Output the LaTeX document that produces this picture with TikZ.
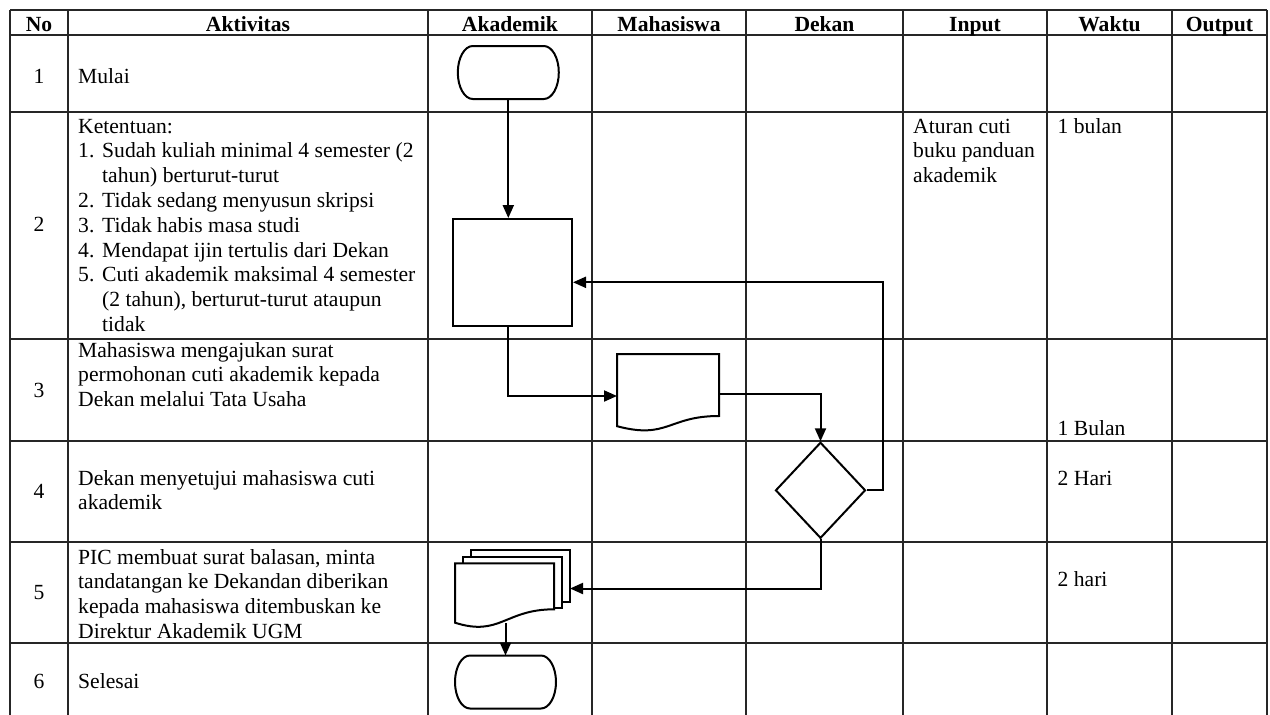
\documentclass[tikz,border=0pt]{standalone}
\usepackage{fontspec}
\setmainfont{Liberation Serif}
\usetikzlibrary{shapes.geometric,arrows.meta,calc}
\newcommand{\itemlab}[1]{\makebox[24pt][l]{#1}}
\newcommand{\termshape}[1]{%
  \draw[shp] ([xshift=15pt]#1.north west) -- ([xshift=-15pt]#1.north east)
    arc[start angle=-90,end angle=90,x radius=15,y radius=26.5]
    -- ([xshift=15pt]#1.south west)
    arc[start angle=90,end angle=270,x radius=15,y radius=26.5] -- cycle;}
\begin{document}
\begin{tikzpicture}[x=1pt,y=-1pt,
  grid/.style={line width=1.6pt,black!85},
  shp/.style={draw,line width=2pt},
  arr/.style={line width=2pt,-{Triangle[length=13pt,width=11pt]}},
  holder/.style={inner sep=0pt,outer sep=0pt},
  txt/.style={inner sep=0pt,anchor=base west,font=\fontsize{21.6}{24.8}\selectfont},
  num/.style={inner sep=0pt,anchor=base,font=\fontsize{21.6}{24.8}\selectfont},
  hdr/.style={inner sep=0pt,anchor=base,font=\fontsize{21.6}{24.8}\selectfont\bfseries}]
\useasboundingbox[fill=white] (0,0) rectangle (1270,715);

% grid
\foreach \x in {10,68,428,592,746,903,1047,1172,1267}
  \draw[grid] (\x,10) -- (\x,715);
\foreach \y in {10,35,112,339,441,542,643}
  \draw[grid] (10,\y) -- (1267,\y);

% header
\node[hdr] (hNo) at (39,31.5) {No};
\node[hdr] (hAkt) at (248,31.5) {Aktivitas};
\node[hdr] (hAka) at (510,31.5) {Akademik};
\node[hdr] (hMhs) at (669,31.5) {Mahasiswa};
\node[hdr] (hDek) at (824.5,31.5) {Dekan};
\node[hdr] (hIn) at (975,31.5) {Input};
\node[hdr] (hWak) at (1109.5,31.5) {Waktu};
\node[hdr] (hOut) at (1219.5,31.5) {Output};

% numbers
\node[num] (n1) at (39,83.3) {1};
\node[num] (n2) at (39,231) {2};
\node[num] (n3) at (39,397) {3};
\node[num] (n4) at (39,498) {4};
\node[num] (n5) at (39,599) {5};
\node[num] (n6) at (39,688) {6};

% activities
\node[txt] (a1) at (78,83.3) {Mulai};
\node[txt] (a2) at (78,133) {\begin{tabular}[t]{@{}l@{}}Ketentuan:\\
\itemlab{1.}Sudah kuliah minimal 4 semester (2\\
\itemlab{}tahun) berturut-turut\\
\itemlab{2.}Tidak sedang menyusun skripsi\\
\itemlab{3.}Tidak habis masa studi\\
\itemlab{4.}Mendapat ijin tertulis dari Dekan\\
\itemlab{5.}Cuti akademik maksimal 4 semester\\
\itemlab{}(2 tahun), berturut-turut ataupun\\
\itemlab{}tidak\end{tabular}};
\node[txt] (a3) at (78,357) {\begin{tabular}[t]{@{}l@{}}Mahasiswa mengajukan surat\\
permohonan cuti akademik kepada\\ Dekan melalui Tata Usaha\end{tabular}};
\node[txt] (a4) at (78,485) {\begin{tabular}[t]{@{}l@{}}Dekan menyetujui mahasiswa cuti\\ akademik\end{tabular}};
\node[txt] (a5) at (78,564) {\begin{tabular}[t]{@{}l@{}}PIC membuat surat balasan, minta\\
tandatangan ke Dekandan diberikan\\ kepada mahasiswa ditembuskan ke\\ Direktur Akademik UGM\end{tabular}};
\node[txt] (a6) at (78,688) {Selesai};

% input / waktu
\node[txt] (in2) at (913,133) {\begin{tabular}[t]{@{}l@{}}Aturan cuti\\ buku panduan\\ akademik\end{tabular}};
\node[txt] (w2) at (1057.5,133) {1 bulan};
\node[txt] (w3) at (1057.5,435) {1 Bulan};
\node[txt] (w4) at (1057.5,485.7) {2 Hari};
\node[txt] (w5) at (1057.5,586.7) {2 hari};

% shapes
\node[holder,minimum width=101pt,minimum height=53pt] (start) at (508.3,72.5) {};
\termshape{start}
\node[shp,rectangle,inner sep=0pt,minimum width=119pt,minimum height=106.5pt] (proc) at (512.5,272.3) {};
\node[holder,minimum width=102pt,minimum height=77pt] (doc) at (668,392.5) {};
\begin{scope}[shift={(doc.north west)}]
  \draw[shp] (0,0) -- (102,0) -- (102,62) .. controls (51,62) and (51,85.7) .. (0,72.2) -- cycle;
\end{scope}
\node[shp,diamond,inner sep=0pt,minimum width=90pt,minimum height=96pt] (dec) at (820.5,490.3) {};
\node[holder,minimum width=115pt,minimum height=77pt] (md) at (512.5,588.5) {};
\begin{scope}[shift={(md.north west)}]
  \draw[shp] (16,6.7) -- (16,0) -- (115,0) -- (115,52.3) -- (107.3,52.3);
  \draw[shp] (8,13.3) -- (8,6.7) -- (107.3,6.7) -- (107.3,58) -- (99,58);
  \draw[shp] (0,13.3) -- (99,13.3) -- (99,59.3) .. controls (50,59.3) and (45,87) .. (0,72.7) -- cycle;
\end{scope}
\node[holder,minimum width=101pt,minimum height=53pt] (end) at (505.5,682) {};
\termshape{end}

% connectors
\coordinate (fb) at (882.5,282.3);
\draw[arr] (start.south) -- (start.south |- proc.north);
\draw[arr] (start.south |- proc.south) |- ([yshift=-3.5pt]doc.west);
\draw[arr] ([yshift=-1.5pt]doc.east) -| (dec.north);
\draw[arr] (dec.east) -| (fb) -- (fb -| proc.east);
\draw[arr] (dec.south) |- (md.east);
\draw[arr] ([yshift=4pt]end.north |- md.south) -- (end.north);
\end{tikzpicture}
\end{document}
